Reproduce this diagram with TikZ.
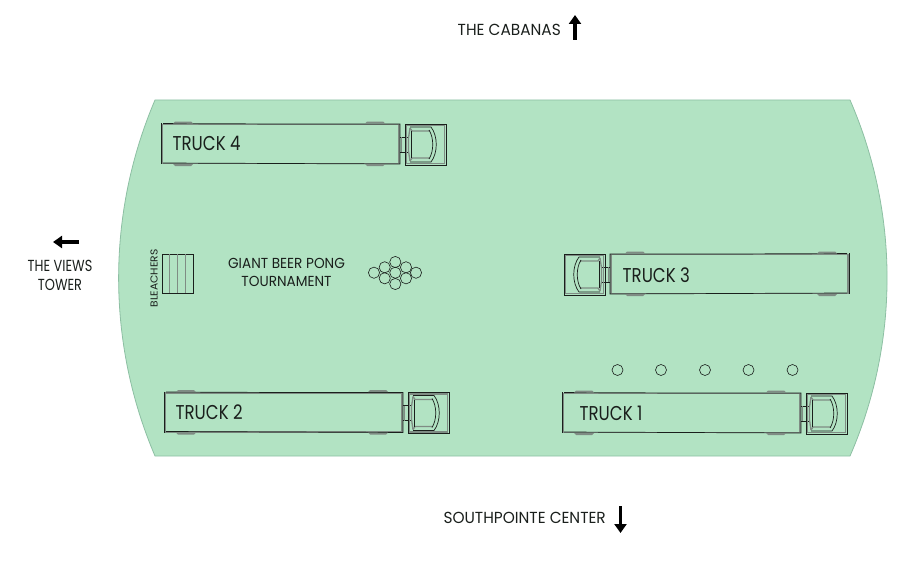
\documentclass[tikz,border=0pt]{standalone}
\usepackage{fontspec}
\setmainfont{Poppins}
\usetikzlibrary{arrows.meta,calc,positioning}
\definecolor{lotgreen}{HTML}{B2E3C3}
\definecolor{lotedge}{HTML}{8DBFA3}
\definecolor{truckgray}{HTML}{7F8C84}
\definecolor{truckink}{HTML}{1A1F1C}
\tikzset{
  lotshape/.style={fill=lotgreen, draw=lotedge, line width=.8pt},
  maplabel/.style={font=\fontsize{16}{19}\selectfont, text=truckink, align=center, inner sep=0pt, xscale=.96},
  smalllabel/.style={font=\fontsize{14.5}{18.5}\selectfont, text=truckink, align=center, inner sep=0pt, xscale=.94},
  trucklabel/.style={font=\fontsize{20}{22}\selectfont, text=truckink, anchor=west, inner sep=0pt, xscale=.83},
  inkline/.style={draw=truckink, line width=.7pt},
  grayline/.style={draw=truckgray, line width=1.3pt},
  cupline/.style={draw=truckink, line width=.6pt},
  dirarrow/.style={-{Triangle[length=9pt,width=12pt]}, draw=black, line width=3.4pt},
  truck/.pic={
    % trailer
    \draw[grayline, fill=lotgreen] (1,-19.5) rectangle (238,19.5);
    \draw[inkline] (2,-20.5) -- (120,-20) -- (239,-20) -- (239,20) -- (120,19.5) -- (2,19);
    \draw[inkline] (0,-21) -- (0,20);
    % wheels
    \foreach \x in {12,204} {
      \fill[truckgray] (\x,-20.5) -- ++(2,-2) -- ++(16,0) -- ++(2,2) -- cycle;
      \fill[truckgray] (\x,20) -- ++(2,2) -- ++(16,0) -- ++(2,-2) -- cycle;
    }
    % hitch
    \draw[inkline] (239,-7) -- (247,-7) (239,8) -- (247,8);
    \draw[grayline] (240.5,-7) -- (240.5,8);
    % cab
    \draw[grayline] (245.5,-18.5) rectangle (283.5,19.5);
    \draw[inkline] (244,-20) rectangle (285,21);
    \draw[grayline] (249,-16) -- (251,-13) -- (269,-13) (249,17) -- (251,14) -- (269,14);
    \draw[grayline] (249,-16) -- (247.5,-6) -- (247.5,7) -- (249,17);
    \draw[inkline] (249,-17) -- (270,-17) .. controls (277,-8) and (277,9) .. (270,18) -- (249,18);
    \draw[inkline] (268,-14) .. controls (273,-6) and (273,7) .. (268,15);
    \draw[inkline] (250,-13) -- (250,14);
  }
}
\begin{document}
\begin{tikzpicture}[x=1pt,y=-1pt]
  \useasboundingbox (0,0) rectangle (917,567);
  % lot
  \draw[lotshape] (155,100) -- (850,100)
    .. controls (899.4,213.6) and (899.4,342.4) .. (850,456) -- (155,456)
    .. controls (106.5,342.4) and (106.5,213.6) .. (155,100) -- cycle;

  % trucks
  \pic at (161,144) {truck};
  \pic at (164,412.5) {truck};
  \pic at (562,413) {truck};
  \pic[xscale=-1] at (849,274) {truck};
  \node[trucklabel] (truckfour) at (172.5,143.5) {TRUCK 4};
  \node[trucklabel] (trucktwo) at (175.5,412.5) {TRUCK 2};
  \node[trucklabel] (truckone) at (579.5,413.5) {TRUCK 1};
  \node[trucklabel] (truckthree) at (622.5,275) {TRUCK 3};

  % posts
  \foreach \x in {617.5,661,705,748.5,792.5} {
    \draw[cupline] (\x,370) circle (5.5);
  }

  % bleachers
  \draw[inkline, line width=.6pt] (162,254) rectangle (193,293);
  \foreach \x in {169.5,177.5,185} {
    \draw[truckgray, line width=.7pt] (\x,254) -- (\x,293);
  }
  \node[smalllabel, font=\fontsize{10.7}{12}\selectfont, rotate=90, xscale=1] (bleachers) at (154,278.5) {BLEACHERS};

  % tournament
  \node[smalllabel] (tournament) at (286.5,272.5) {GIANT BEER PONG\\TOURNAMENT};
  \foreach \x/\y in {374/272.7,384.7/267.3,395.3/262,406/267.3,416/272.7,384.7/278.3,395.3/272.7,406/278.3,395.3/284} {
    \draw[cupline] (\x,\y) circle (5.6);
  }

  % directions
  \node[maplabel, anchor=east] (cabanas) at (561,30) {THE CABANAS};
  \coordinate (cabanasfoot) at (575,40);
  \coordinate (cabanastip) at (575,15);
  \draw[dirarrow] (cabanasfoot) -- (cabanastip);
  \node[maplabel, xscale=.84] (views) at (60,275.5) {THE VIEWS\\TOWER};
  \coordinate (viewsfoot) at (79,242);
  \coordinate (viewstip) at (53,242);
  \draw[dirarrow] (viewsfoot) -- (viewstip);
  \node[maplabel, anchor=east] (southpointe) at (606,518) {SOUTHPOINTE CENTER};
  \coordinate (southfoot) at (620.5,506);
  \coordinate (southtip) at (620.5,533);
  \draw[dirarrow] (southfoot) -- (southtip);
\end{tikzpicture}
\end{document}
